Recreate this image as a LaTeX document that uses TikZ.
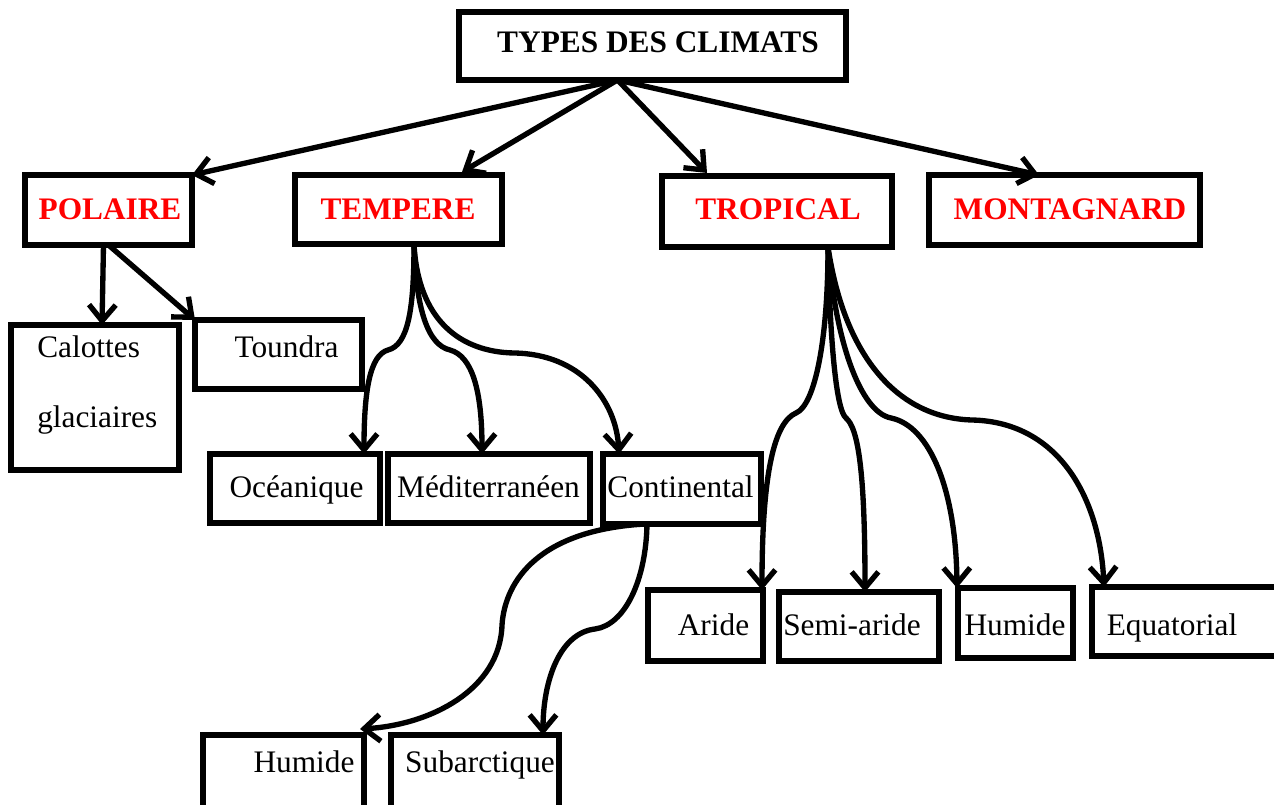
\documentclass[tikz,border=0pt]{standalone}
\usepackage{fontspec}
\setmainfont{Liberation Serif}
\usetikzlibrary{arrows.meta,fit,calc}
\begin{document}
\begin{tikzpicture}[x=0.75pt,y=-0.75pt,
  box/.style={draw, line width=4.4pt, inner sep=0pt, outer sep=0pt, rectangle},
  lbl/.style={anchor=base, inner sep=0pt, font=\fontsize{23.5}{28}\selectfont},
  head/.style={lbl, font=\fontsize{23.5}{28}\selectfont\bfseries, text=red},
  arr/.style={line width=4pt, line cap=round, line join=round, -{Straight Barb[length=12pt,width=20pt]}}]
\useasboundingbox (0,0) rectangle (1274,805);

% boxes
\node[box, fit={(459,12) (846,80)}] (title) {};
\node[box, fit={(25,175) (192,245)}] (polaire) {};
\node[box, fit={(295,175) (502,244)}] (tempere) {};
\node[box, fit={(662,176) (892,247)}] (tropical) {};
\node[box, fit={(929,175) (1200,245)}] (montagnard) {};
\node[box, fit={(11,325) (179,470)}] (calottes) {};
\node[box, fit={(195,320) (362,389)}] (toundra) {};
\node[box, fit={(210,454) (380,523)}] (ocean) {};
\node[box, fit={(388,454) (590,523)}] (medit) {};
\node[box, fit={(603,454) (761,524)}] (conti) {};
\node[box, fit={(648,590) (763,661)}] (aride) {};
\node[box, fit={(779,592) (939,661)}] (semiaride) {};
\node[box, fit={(958,588) (1073,658)}] (humtrop) {};
\node[box, fit={(1092,587) (1285,656)}] (equat) {};
\node[box, fit={(203,735) (364,815)}] (humbot) {};
\node[box, fit={(391,735) (559,815)}] (subarc) {};

% texts
\node[lbl, font=\fontsize{23.5}{28}\selectfont\bfseries] (t-title) at (658,53) {TYPES DES CLIMATS};
\node[head] (t-polaire) at (110,220) {POLAIRE};
\node[head] (t-tempere) at (398,220) {TEMPERE};
\node[head] (t-tropical) at (778,220) {TROPICAL};
\node[head] (t-montagnard) at (1070,220) {MONTAGNARD};
\node[lbl, anchor=base west] (t-cal1) at (37,358) {Calottes};
\node[lbl, anchor=base west] (t-cal2) at (37,427) {glaciaires};
\node[lbl] (t-toundra) at (286.5,358) {Toundra};
\node[lbl] (t-ocean) at (296.5,497) {Océanique};
\node[lbl] (t-medit) at (488.5,497) {Méditerranéen};
\node[lbl] (t-conti) at (680.5,497) {Continental};
\node[lbl] (t-aride) at (713.5,635) {Aride};
\node[lbl] (t-semiaride) at (852,635) {Semi-aride};
\node[lbl] (t-humtrop) at (1015,635) {Humide};
\node[lbl] (t-equat) at (1172,635) {Equatorial};
\node[lbl] (t-humbot) at (304,772) {Humide};
\node[lbl] (t-subarc) at (480,772) {Subarctique};

% connectors from title
\coordinate (hub) at ($(title.south)+(-35,0)$);
\draw[arr] (hub) -- (polaire.north east);
\draw[arr] (hub) -- ($(tempere.north east)+(-40,-3)$);
\draw[arr] (hub) -- ($(tropical.north west)+(45,-3)$);
\draw[arr] (hub) -- ($(montagnard.north west)+(110,0)$);

% polaire
\draw[arr] ($(polaire.south)+(-5,0)$) -- ($(calottes.north)+(7,0)$);
\draw[arr] ($(polaire.south)+(0,0)$) -- (toundra.north west);

% tempere
\coordinate (ts) at ($(tempere.south)+(15.5,0)$);
\draw[arr] (ts) .. controls (414,310) and (408,345) .. (388,350)
  .. controls (370,355) and (364,390) .. ($(ocean.north east)+(-16,0)$);
\draw[arr] (ts) .. controls (416,310) and (428,345) .. (450,350)
  .. controls (472,356) and (482,390) .. ($(medit.north)+(-7,0)$);
\draw[arr] (ts) .. controls (418,320) and (460,352) .. (514,353)
  .. controls (580,354) and (616,400) .. ($(conti.north west)+(16,0)$);

% tropical
\coordinate (trs) at ($(tropical.south)+(51,0)$);
\draw[arr] (trs) .. controls (828,340) and (815,405) .. (796,413)
  .. controls (775,422) and (762,470) .. ($(aride.north east)+(-1,0)$);
\draw[arr] (trs) .. controls (830,340) and (836,410) .. (846,418)
  .. controls (858,428) and (865,470) .. ($(semiaride.north)+(6,0)$);
\draw[arr] (trs) .. controls (835,340) and (860,412) .. (891,418)
  .. controls (930,426) and (956,490) .. ($(humtrop.north west)+(-1,0)$);
\draw[arr] (trs) .. controls (845,360) and (900,418) .. (972,420)
  .. controls (1060,422) and (1100,500) .. ($(equat.north west)+(12,0)$);

% continental
\draw[arr] ($(conti.south)+(-37,0)$) .. controls (540,530) and (505,580) .. (502,625)
  .. controls (500,690) and (430,725) .. ($(humbot.north east)+(-4,-6)$);
\draw[arr] ($(conti.south)+(-35,0)$) .. controls (646,580) and (625,625) .. (595,629)
  .. controls (560,633) and (543,680) .. ($(subarc.north east)+(-16,0)$);
\end{tikzpicture}
\end{document}
